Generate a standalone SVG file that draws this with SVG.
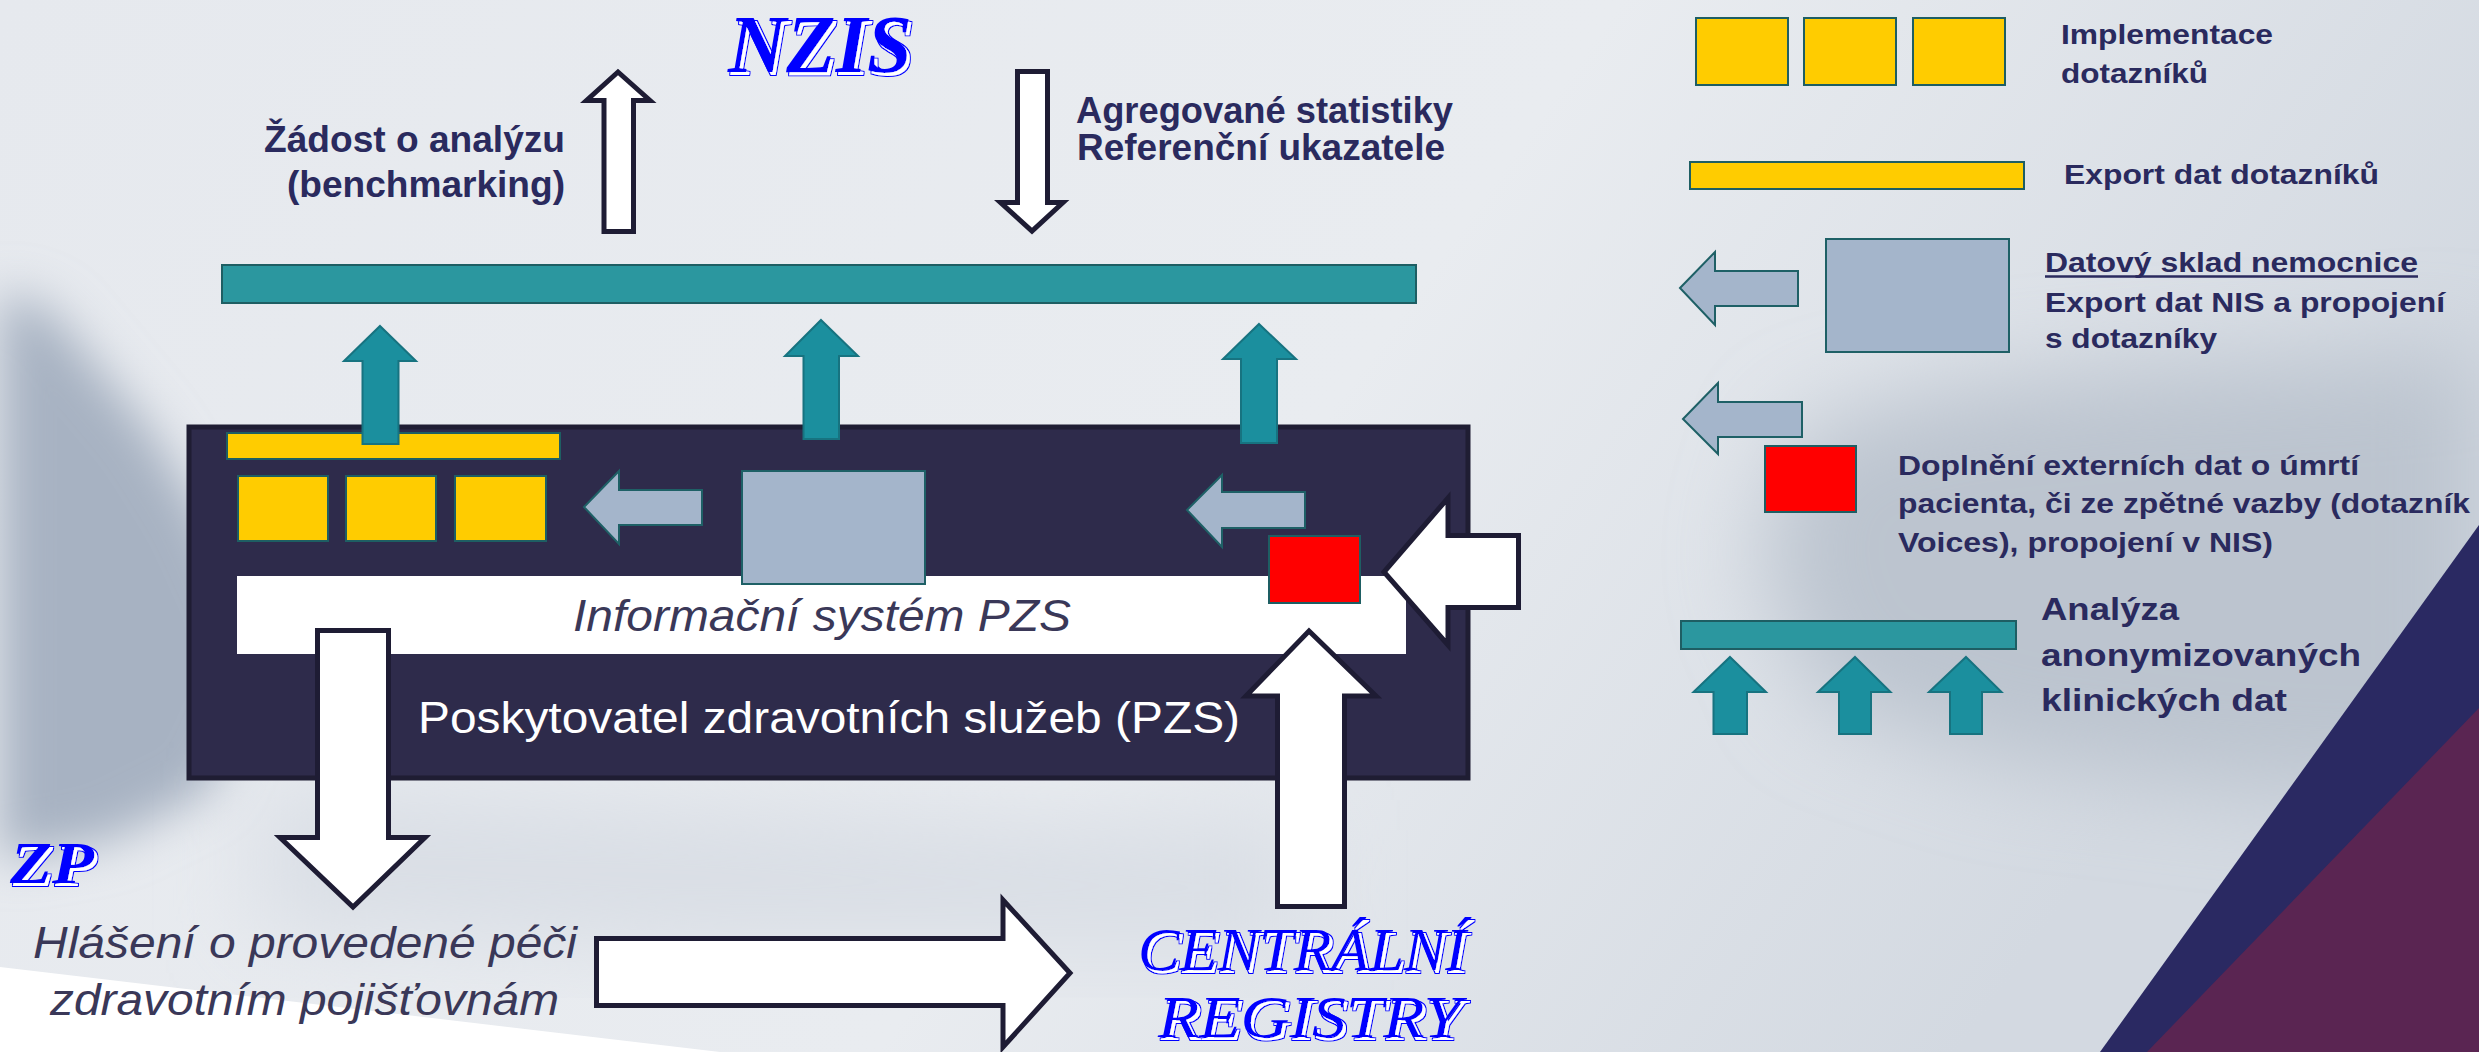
<svg xmlns="http://www.w3.org/2000/svg" width="2479" height="1052" viewBox="0 0 2479 1052">
<defs>
<linearGradient id="bg" x1="0" y1="0" x2="1" y2="0.3">
<stop offset="0" stop-color="#e6e9ee"/>
<stop offset="0.6" stop-color="#e9ecf0"/>
<stop offset="1" stop-color="#d3d9e1"/>
</linearGradient>
<filter id="blur1" x="-30%" y="-30%" width="160%" height="160%"><feGaussianBlur stdDeviation="24"/></filter>
<filter id="blur2" x="-30%" y="-30%" width="160%" height="160%"><feGaussianBlur stdDeviation="45"/></filter>
<filter id="wa" x="-10%" y="-20%" width="130%" height="150%">
<feMorphology in="SourceAlpha" operator="dilate" radius="1.3" result="dil"/>
<feOffset in="dil" dx="3" dy="3" result="dilo"/>
<feFlood flood-color="#0000ff" result="blue"/>
<feComposite in="blue" in2="dilo" operator="in" result="outer"/>
<feOffset in="SourceAlpha" dx="3" dy="3" result="so"/>
<feFlood flood-color="#ffffff" result="white"/>
<feComposite in="white" in2="so" operator="in" result="inner"/>
<feMerge><feMergeNode in="outer"/><feMergeNode in="inner"/><feMergeNode in="SourceGraphic"/></feMerge>
</filter>
</defs>
<style>
.lbl{font-family:"Liberation Sans",Arial,sans-serif;font-weight:bold;fill:#2a2a5e}
.it{font-family:"Liberation Sans",Arial,sans-serif;font-style:italic;fill:#3a3858}
.wt{font-family:"Liberation Sans",Arial,sans-serif;fill:#ffffff}
.wa{font-family:"Liberation Serif","Times New Roman",serif;font-style:italic;font-weight:bold;fill:#0000ff;filter:url(#wa)}
.wa2{font-family:"Liberation Serif","Times New Roman",serif;font-style:italic;fill:#0000ff;filter:url(#wa)}
.teal{fill:#2b979f;stroke:#1e5e63;stroke-width:2}
.tarr{fill:#1b8f9e;stroke:#177380;stroke-width:2}
.yel{fill:#ffcc00;stroke:#1e5e63;stroke-width:2}
.gry{fill:#a4b5cb;stroke:#1e6066;stroke-width:2}
.red{fill:#ff0000;stroke:#1e5e63;stroke-width:2}
.warr{fill:#ffffff;stroke:#1e1c34;stroke-width:5;stroke-linejoin:miter}
</style>

<!-- background -->
<rect x="0" y="0" width="2479" height="1052" fill="url(#bg)"/>
<polygon points="0,290 50,310 100,370 150,430 200,510 240,600 250,700 210,790 110,840 0,860" fill="#a7b2c2" filter="url(#blur1)"/>
<polygon points="1800,430 1950,390 2150,370 2350,360 2479,350 2479,800 2250,790 2000,760 1820,700 1760,560" fill="#bcc4cf" filter="url(#blur2)"/>
<polygon points="260,790 800,810 1300,830 1300,950 700,950 260,930" fill="#d9dee5" filter="url(#blur2)"/>
<polygon points="0,967 720,1052 0,1052" fill="#ffffff"/>
<polygon points="2479,525 2100,1052 2479,1052" fill="#2a2962"/>
<polygon points="2479,708 2147,1052 2479,1052" fill="#5a2552"/>

<!-- top labels -->
<g id="nzis"><text class="wa" x="728" y="72" font-size="82" textLength="184" lengthAdjust="spacingAndGlyphs">NZIS</text></g>
<g id="label-zadost">
<text class="lbl" x="565" y="152" font-size="37" text-anchor="end" textLength="301" lengthAdjust="spacingAndGlyphs">Žádost o analýzu</text>
<text class="lbl" x="565" y="197" font-size="37" text-anchor="end" textLength="278" lengthAdjust="spacingAndGlyphs">(benchmarking)</text>
</g>
<g id="label-agregovane">
<text class="lbl" x="1076" y="123" font-size="36" textLength="377" lengthAdjust="spacingAndGlyphs">Agregované statistiky</text>
<text class="lbl" x="1077" y="160" font-size="36" textLength="368" lengthAdjust="spacingAndGlyphs">Referenční ukazatele</text>
</g>

<!-- analysis bar -->
<g id="analysis-bar"><rect class="teal" x="222" y="265" width="1194" height="38"/></g>

<!-- PZS box -->
<g id="pzs">
<rect x="189" y="427" width="1279" height="351" fill="#2e2b4b" stroke="#1f1d33" stroke-width="5"/>
<text class="wt" x="418" y="733" font-size="45" textLength="822" lengthAdjust="spacingAndGlyphs">Poskytovatel zdravotních služeb (PZS)</text>
</g>
<g id="export-bar"><rect class="yel" x="227" y="433" width="333" height="26"/></g>
<g id="nis">
<rect x="237" y="576" width="1169" height="78" fill="#ffffff"/>
<text class="it" x="573" y="631" font-size="45" textLength="498" lengthAdjust="spacingAndGlyphs">Informační systém PZS</text>
</g>
<g id="dotazniky">
<rect class="yel" x="238" y="476" width="90" height="65"/>
<rect class="yel" x="346" y="476" width="90" height="65"/>
<rect class="yel" x="455" y="476" width="91" height="65"/>
</g>
<g id="datovy-sklad"><rect class="gry" x="742" y="471" width="183" height="113"/></g>
<g id="externi-data"><rect class="red" x="1269" y="536" width="91" height="67"/></g>

<!-- bottom labels -->
<g id="zp"><text class="wa" x="10" y="883" font-size="60" textLength="84" lengthAdjust="spacingAndGlyphs">ZP</text></g>
<g id="label-hlaseni">
<text class="it" x="33" y="958" font-size="45" textLength="544" lengthAdjust="spacingAndGlyphs">Hlášení o provedené péči</text>
<text class="it" x="50" y="1015" font-size="45" textLength="509" lengthAdjust="spacingAndGlyphs">zdravotním pojišťovnám</text>
</g>
<g id="centralni-registry">
<text class="wa2" x="1138" y="970" font-size="62" textLength="328" lengthAdjust="spacingAndGlyphs">CENTRÁLNÍ</text>
<text class="wa2" x="1158" y="1037" font-size="60" textLength="303" lengthAdjust="spacingAndGlyphs">REGISTRY</text>
</g>

<!-- connectors -->
<g id="connectors">
<polygon class="warr" points="618,72 650,100.5 633.5,100.5 633.5,231.5 604,231.5 604,100.5 586.5,100.5"/>
<polygon class="warr" points="1017.5,71.5 1047.5,71.5 1047.5,202.5 1063,202.5 1032,231 1000.5,202.5 1017.5,202.5"/>
<polygon class="tarr" points="380,326 416,361 398.5,361 398.5,444 362.5,444 362.5,361 344,361"/>
<polygon class="tarr" points="821,320 858,356 839,356 839,439 803.5,439 803.5,356 785,356"/>
<polygon class="tarr" points="1259,324 1296,359 1277,359 1277,443 1241,443 1241,359 1223,359"/>
<polygon class="gry" points="584,507 619,471 619,490 702,490 702,525 619,525 619,544"/>
<polygon class="gry" points="1187,510 1222,475 1222,492 1305,492 1305,528 1222,528 1222,547"/>
<polygon class="warr" points="1384,572 1448,498 1448,535.5 1518.5,535.5 1518.5,607.5 1448,607.5 1448,645"/>
<polygon class="warr" points="1309,631 1376,696 1344.5,696 1344.5,906.5 1277.5,906.5 1277.5,696 1246,696"/>
<polygon class="warr" points="317.5,630.5 388.5,630.5 388.5,837.5 425,837.5 353,907 280,837.5 317.5,837.5"/>
<polygon class="warr" points="596.5,938.5 1003,938.5 1003,900 1070,973 1003,1047 1003,1005.5 596.5,1005.5"/>
</g>

<!-- legend -->
<g id="legend-dotazniky">
<rect class="yel" x="1696" y="18" width="92" height="67"/>
<rect class="yel" x="1804" y="18" width="92" height="67"/>
<rect class="yel" x="1913" y="18" width="92" height="67"/>
<text class="lbl" x="2061" y="44" font-size="28" textLength="212" lengthAdjust="spacingAndGlyphs">Implementace</text>
<text class="lbl" x="2061" y="83" font-size="28" textLength="147" lengthAdjust="spacingAndGlyphs">dotazníků</text>
</g>
<g id="legend-export">
<rect class="yel" x="1690" y="162" width="334" height="27"/>
<text class="lbl" x="2064" y="184" font-size="28" textLength="315" lengthAdjust="spacingAndGlyphs">Export dat dotazníků</text>
</g>
<g id="legend-sklad">
<polygon class="gry" points="1680,288 1715,252 1715,271 1798,271 1798,306 1715,306 1715,325"/>
<rect class="gry" x="1826" y="239" width="183" height="113"/>
<text class="lbl" x="2045" y="272" font-size="28" textLength="373" lengthAdjust="spacingAndGlyphs">Datový sklad nemocnice</text>
<line x1="2045" y1="276.5" x2="2418" y2="276.5" stroke="#2a2a5e" stroke-width="2.5"/>
<text class="lbl" x="2045" y="312" font-size="28" textLength="400" lengthAdjust="spacingAndGlyphs">Export dat NIS a propojení</text>
<text class="lbl" x="2045" y="348" font-size="28" textLength="172" lengthAdjust="spacingAndGlyphs">s dotazníky</text>
</g>
<g id="legend-externi">
<polygon class="gry" points="1683,419 1718,383 1718,402 1802,402 1802,437 1718,437 1718,454"/>
<rect class="red" x="1765" y="446" width="91" height="66"/>
<text class="lbl" x="1898" y="475" font-size="28" textLength="461" lengthAdjust="spacingAndGlyphs">Doplnění externích dat o úmrtí</text>
<text class="lbl" x="1898" y="513" font-size="28" textLength="572" lengthAdjust="spacingAndGlyphs">pacienta, či ze zpětné vazby (dotazník</text>
<text class="lbl" x="1898" y="552" font-size="28" textLength="375" lengthAdjust="spacingAndGlyphs">Voices), propojení v NIS)</text>
</g>
<g id="legend-analyza">
<rect class="teal" x="1681" y="621" width="335" height="28"/>
<polygon class="tarr" points="1730,657 1766,692 1747,692 1747,734 1713.5,734 1713.5,692 1693.5,692"/>
<polygon class="tarr" points="1855,657 1890.5,692 1871,692 1871,734 1839,734 1839,692 1818,692"/>
<polygon class="tarr" points="1966,657 2001.5,692 1982,692 1982,734 1950,734 1950,692 1929,692"/>
<text class="lbl" x="2041" y="620" font-size="32" textLength="138" lengthAdjust="spacingAndGlyphs">Analýza</text>
<text class="lbl" x="2041" y="666" font-size="32" textLength="320" lengthAdjust="spacingAndGlyphs">anonymizovaných</text>
<text class="lbl" x="2041" y="711" font-size="32" textLength="246" lengthAdjust="spacingAndGlyphs">klinických dat</text>
</g>
</svg>
